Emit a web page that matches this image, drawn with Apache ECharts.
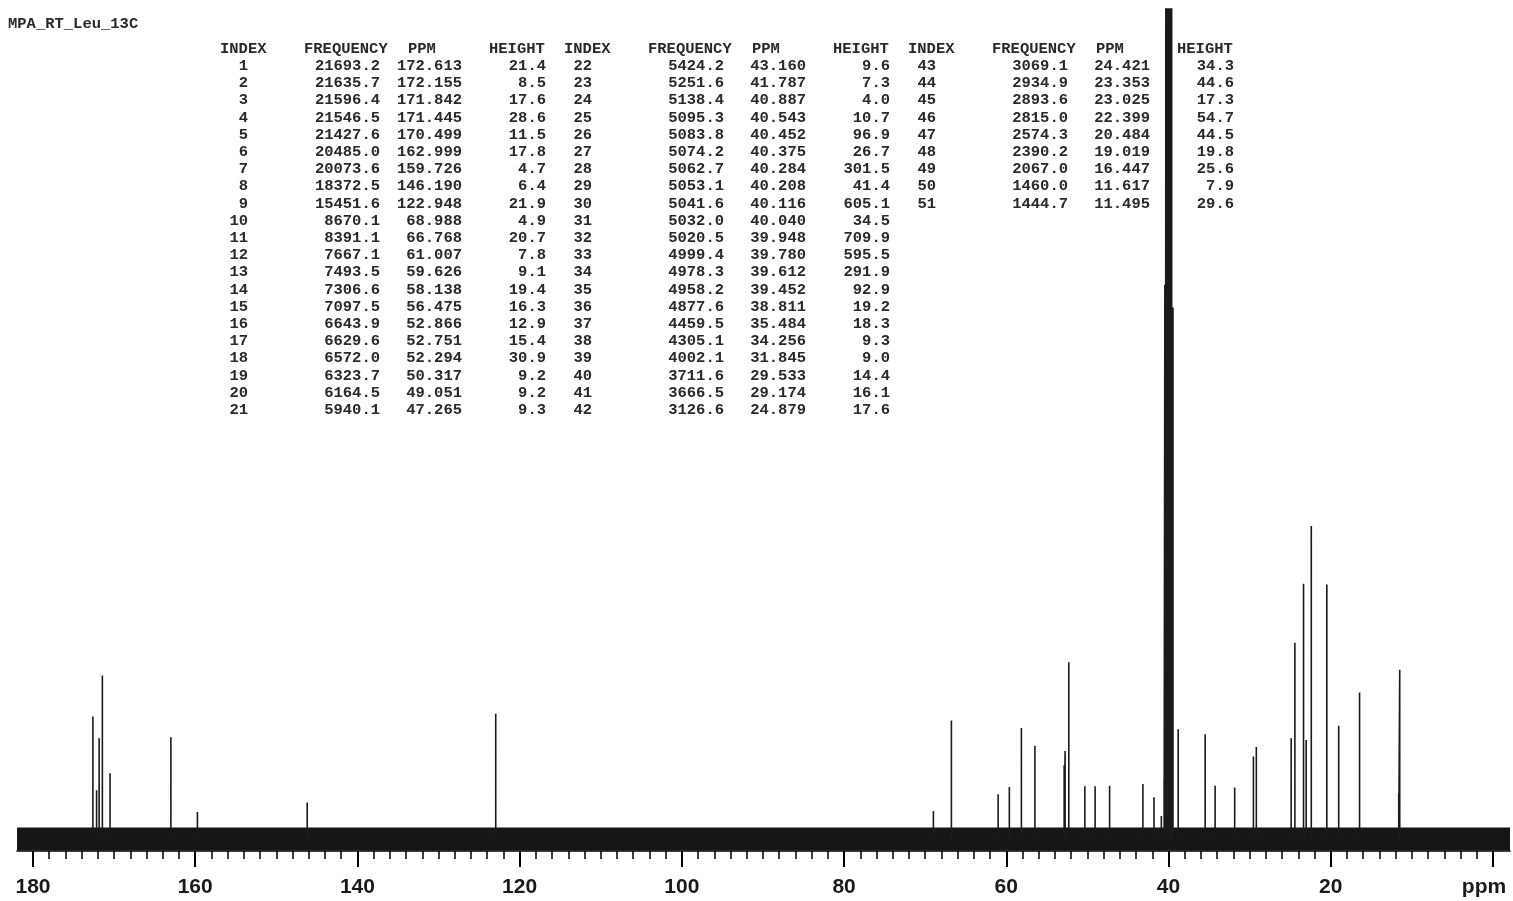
<!DOCTYPE html>
<html>
<head>
<meta charset="utf-8">
<script src="https://cdn.jsdelivr.net/npm/echarts@6/dist/echarts.min.js"></script>
<style>
html,body{margin:0;padding:0;background:#fff;}
#chart{width:1513px;height:901px;}
</style>
</head>
<body>
<div id="chart"></div>
<script>
const sampleName = 'MPA_RT_Leu_13C';
const headers = ['INDEX', 'FREQUENCY', 'PPM', 'HEIGHT'];
const freq = [
  21693.2, 21635.7, 21596.4, 21546.5, 21427.6, 20485.0, 20073.6, 18372.5, 15451.6, 8670.1,
  8391.1, 7667.1, 7493.5, 7306.6, 7097.5, 6643.9, 6629.6, 6572.0, 6323.7, 6164.5, 5940.1,
  5424.2, 5251.6, 5138.4, 5095.3, 5083.8, 5074.2, 5062.7, 5053.1, 5041.6, 5032.0,
  5020.5, 4999.4, 4978.3, 4958.2, 4877.6, 4459.5, 4305.1, 4002.1, 3711.6, 3666.5, 3126.6,
  3069.1, 2934.9, 2893.6, 2815.0, 2574.3, 2390.2, 2067.0, 1460.0, 1444.7
];
const ppm = [
  172.613, 172.155, 171.842, 171.445, 170.499, 162.999, 159.726, 146.190, 122.948, 68.988,
  66.768, 61.007, 59.626, 58.138, 56.475, 52.866, 52.751, 52.294, 50.317, 49.051, 47.265,
  43.160, 41.787, 40.887, 40.543, 40.452, 40.375, 40.284, 40.208, 40.116, 40.040,
  39.948, 39.780, 39.612, 39.452, 38.811, 35.484, 34.256, 31.845, 29.533, 29.174, 24.879,
  24.421, 23.353, 23.025, 22.399, 20.484, 19.019, 16.447, 11.617, 11.495
];
const height = [
  21.4, 8.5, 17.6, 28.6, 11.5, 17.8, 4.7, 6.4, 21.9, 4.9,
  20.7, 7.8, 9.1, 19.4, 16.3, 12.9, 15.4, 30.9, 9.2, 9.2, 9.3,
  9.6, 7.3, 4.0, 10.7, 96.9, 26.7, 301.5, 41.4, 605.1, 34.5,
  709.9, 595.5, 291.9, 92.9, 19.2, 18.3, 9.3, 9.0, 14.4, 16.1, 17.6,
  34.3, 44.6, 17.3, 54.7, 44.5, 19.8, 25.6, 7.9, 29.6
];
const majorTicks = [0, 20, 40, 60, 80, 100, 120, 140, 160, 180];
const tickLabels = [20, 40, 60, 80, 100, 120, 140, 160, 180];
const minorTicks = [0,2,4,6,8,10,12,14,16,18,20,22,24,26,28,30,32,34,36,38,40,42,44,46,48,50,52,54,56,58,60,62,64,66,68,70,72,74,76,78,80,82,84,86,88,90,92,94,96,98,100,102,104,106,108,110,112,114,116,118,120,122,124,126,128,130,132,134,136,138,140,142,144,146,148,150,152,154,156,158,160,162,164,166,168,170,172,174,176,178,180];
const axisUnit = 'ppm';

// ---- layout ----
const X_MIN = -2.1, X_MAX = 181.97;
const Y_MIN = -2.1, Y_MAX = 145.1;

// stick spectrum built from the peak list
const stick = [];
for (let i = 0; i < ppm.length; i++) {
  stick.push([ppm[i], 0], [ppm[i], height[i]], [ppm[i], 0]);
}

// table text
const FONT = 'bold 15.5px "Liberation Mono", "DejaVu Sans Mono", monospace';
const graphics = [];
const rowsPerGroup = 21;
const groupDX = 344;
const headerLeft = [220, 304, 408, 489];
const colRight = [248, 380, 462, 546];
function txt(x, y, s, align) {
  graphics.push({ type: 'text', x: x, y: y, silent: true,
    style: { text: s, font: FONT, fill: '#2a2a2a', align: align, verticalAlign: 'middle' } });
}
for (let g = 0; g < 3; g++) {
  const dx = g * groupDX;
  const start = g * rowsPerGroup;
  if (start >= ppm.length) break;
  for (let h = 0; h < headers.length; h++) {
    txt(headerLeft[h] + dx, 49, headers[h], 'left');
  }
  for (let r = 0; r < rowsPerGroup && start + r < ppm.length; r++) {
    const i = start + r;
    const y = 66 + 17.2 * r;
    txt(colRight[0] + dx, y, String(i + 1), 'right');
    txt(colRight[1] + dx, y, freq[i].toFixed(1), 'right');
    txt(colRight[2] + dx, y, ppm[i].toFixed(3), 'right');
    txt(colRight[3] + dx, y, height[i].toFixed(1), 'right');
  }
}
graphics.push({ type: 'text', x: 1484, y: 887, silent: true,
  style: { text: axisUnit, font: 'bold 21px "Liberation Sans", Arial, sans-serif', fill: '#1a1a1a', align: 'center', verticalAlign: 'middle' } });

const chart = echarts.init(document.getElementById('chart'), null, { renderer: 'canvas' });
chart.setOption({
  animation: false,
  backgroundColor: '#fff',
  title: {
    text: sampleName, left: 3, top: 11,
    textStyle: { fontFamily: '"Liberation Mono", monospace', fontSize: 15.5, fontWeight: 'bold', color: '#2a2a2a' }
  },
  grid: { left: 17, right: 3, top: 9, bottom: 50, containLabel: false },
  xAxis: [
    {
      type: 'value', inverse: true, min: X_MIN, max: X_MAX, position: 'bottom',
      axisLine: { show: true, onZero: false, lineStyle: { color: '#000', width: 1.6 } },
      axisTick: { show: true, customValues: majorTicks, length: 16, lineStyle: { color: '#000', width: 2 } },
      axisLabel: { show: true, customValues: tickLabels, margin: 26, fontSize: 21, fontWeight: 'bold',
        fontFamily: '"Liberation Sans", Arial, sans-serif', color: '#1a1a1a' },
      splitLine: { show: false }
    },
    {
      type: 'value', inverse: true, min: X_MIN, max: X_MAX, position: 'bottom', offset: 0,
      axisLine: { show: true, onZero: false, lineStyle: { color: 'rgba(0,0,0,0)', width: 1 } },
      axisTick: { show: true, customValues: minorTicks, length: 8, lineStyle: { color: '#000', width: 1.5 } },
      axisLabel: { show: true, customValues: minorTicks, color: 'rgba(0,0,0,0)', fontSize: 1 },
      splitLine: { show: false }
    }
  ],
  yAxis: { type: 'value', min: Y_MIN, max: Y_MAX, show: false, splitLine: { show: false } },
  series: [
    {
      name: 'baseline', type: 'line', xAxisIndex: 0, silent: true,
      data: [[X_MIN, 0], [X_MAX, 0]], showSymbol: false,
      lineStyle: { color: '#161616', width: 23 }, z: 1
    },
    {
      name: 'peaks', type: 'line', xAxisIndex: 0, silent: true,
      data: stick, showSymbol: false, clip: true,
      lineStyle: { color: '#1a1a1a', width: 1.6 }, z: 2
    },
    {
      name: 'minorAxisHost', type: 'line', xAxisIndex: 1, silent: true,
      data: [], showSymbol: false
    }
  ],
  graphic: graphics
});
</script>
</body>
</html>
